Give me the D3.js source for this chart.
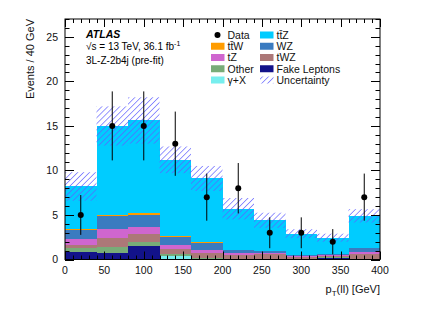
<!DOCTYPE html>
<html><head><meta charset="utf-8">
<script src="https://cdn.jsdelivr.net/npm/d3@7"></script>
<style>body{margin:0;background:#fff}svg{display:block;font-family:"Liberation Sans",Arial,Helvetica,sans-serif}</style>
</head><body><svg id="c" width="432" height="310"></svg>
<script>
const binEdges = [0,40,80,120,160,200,240,280,320,360,400];
const fake   = [0.86,0.75,1.54,0,0,0,0,0,0.22,0];
const gammaX = [0,0,0,0.4,0.08,0,0,0,0,0];
const other  = [0.45,0.64,0.37,0.19,0.1,0.05,0.03,0.02,0.03,0.04];
const tWZ    = [0.37,1.05,0.94,0.64,0.55,0.45,0.57,0.28,0.12,0.63];
const tZ     = [0.6,0.94,0.75,0.45,0.3,0.19,0.11,0.1,0.1,0.15];
const WZ     = [1.0,1.5,1.42,0.86,0.85,0.34,0.26,0.07,0.1,0.45];
const ttW    = [0.19,0.11,0.19,0.05,0.05,0.03,0.03,0.02,0.02,0.03];
const ttZ    = [4.73,10.0,10.4,8.6,7.17,4.64,3.4,2.41,1.86,3.6];
const unc    = [1.6,2.2,2.6,1.5,1.4,1.2,0.85,0.5,0.45,0.75];
const dataVals = [5,15,15,13,7,8,3,3,2,7];
const xTicks = [0,50,100,150,200,250,300,350,400];
const yTicks = [0,5,10,15,20,25];

const seriesKeys = ["fake","gammaX","other","tWZ","tZ","WZ","ttW","ttZ"];
const seriesArr = {fake,gammaX,other,tWZ,tZ,WZ,ttW,ttZ};
const colors = {fake:"#12128a",gammaX:"#77eeee",other:"#78ac78",tWZ:"#ac7878",tZ:"#cf66cf",WZ:"#3a7bc0",ttW:"#ff9c00",ttZ:"#00ccff"};

const svg = d3.select("#c");
const L=65,R=380,T=19,B=259.5;
const x = d3.scaleLinear().domain([0,400]).range([L,R]);
const y = d3.scaleLinear().domain([0,27]).range([B,T]);

const defs = svg.append("defs");
const pat = defs.append("pattern").attr("id","hatch").attr("patternUnits","userSpaceOnUse")
  .attr("width",4.2).attr("height",4.2).attr("patternTransform","rotate(45)");
pat.append("line").attr("x1",0).attr("y1",0).attr("x2",0).attr("y2",4.2)
  .attr("stroke","#6060ff").attr("stroke-width",1.3);
defs.append("clipPath").attr("id","clip").append("rect").attr("x",L).attr("y",T).attr("width",R-L).attr("height",B-T);

const rows = binEdges.slice(0,-1).map((e,i)=>{const o={i,lo:e,hi:binEdges[i+1]};seriesKeys.forEach(k=>o[k]=seriesArr[k][i]);return o;});
const stacked = d3.stack().keys(seriesKeys)(rows);
const g = svg.append("g").attr("clip-path","url(#clip)");
stacked.forEach(s=>{
  g.selectAll(null).data(s).enter().append("rect")
    .attr("x",d=>x(d.data.lo)).attr("width",d=>x(d.data.hi)-x(d.data.lo))
    .attr("y",d=>y(d[1])).attr("height",d=>Math.max(0,y(d[0])-y(d[1])))
    .attr("fill",colors[s.key]).attr("shape-rendering","crispEdges");
});
const totals = rows.map(r=>d3.sum(seriesKeys,k=>r[k]));
g.selectAll(null).data(rows).enter().append("rect")
  .attr("x",d=>x(d.lo)).attr("width",d=>x(d.hi)-x(d.lo))
  .attr("y",d=>y(totals[d.i]+unc[d.i])).attr("height",d=>y(totals[d.i]-unc[d.i])-y(totals[d.i]+unc[d.i]))
  .attr("fill","url(#hatch)");

const dg = svg.append("g");
rows.forEach(r=>{
  const cx=x((r.lo+r.hi)/2), v=dataVals[r.i], e=Math.sqrt(v);
  dg.append("line").attr("x1",cx).attr("x2",cx).attr("y1",y(Math.max(0,v-e))).attr("y2",y(v+e)).attr("stroke","#000").attr("stroke-width",1);
  dg.append("circle").attr("cx",cx).attr("cy",y(v)).attr("r",3).attr("fill","#000");
});

const ax = svg.append("g").attr("stroke","#000").attr("stroke-width",1);
ax.append("rect").attr("x",L).attr("y",T).attr("width",R-L).attr("height",B-T).attr("fill","none");
d3.range(0,401,10).forEach(v=>{
  const len = v%50===0?8:4; const px=Math.round(x(v))+0.5;
  ax.append("line").attr("x1",px).attr("x2",px).attr("y1",B).attr("y2",B-len);
  ax.append("line").attr("x1",px).attr("x2",px).attr("y1",T).attr("y2",T+len);
});
d3.range(0,28,1).forEach(v=>{
  const len = v%5===0?9:4.5; const py=Math.round(y(v))+0.5;
  ax.append("line").attr("x1",L).attr("x2",L+len).attr("y1",py).attr("y2",py);
  ax.append("line").attr("x1",R).attr("x2",R-len).attr("y1",py).attr("y2",py);
});
const txt = svg.append("g").attr("fill","#111").attr("font-size",10.5);
xTicks.forEach(v=>txt.append("text").attr("x",x(v)).attr("y",274).attr("text-anchor","middle").text(v));
yTicks.forEach(v=>txt.append("text").attr("x",58).attr("y",y(v)+3.8).attr("text-anchor","end").text(v));
svg.append("text").attr("transform","translate(34,19) rotate(-90)").attr("text-anchor","end").attr("font-size",11).attr("fill","#111").text("Events / 40 GeV");
const xt = svg.append("text").attr("x",380).attr("y",293).attr("text-anchor","end").attr("font-size",11).attr("fill","#111");
xt.append("tspan").text("p");
xt.append("tspan").attr("dy",3).attr("font-size",8).text("T");
xt.append("tspan").attr("dy",-3).text("(ll) [GeV]");

svg.append("text").attr("x",86).attr("y",37.5).attr("font-size",10.5).attr("font-weight","bold").attr("font-style","italic").text("ATLAS");
const s2 = svg.append("text").attr("x",86).attr("y",50).attr("font-size",10);
s2.append("tspan").text("√s = 13 TeV, 36.1 fb");
s2.append("tspan").attr("dy",-4).attr("font-size",7).text("-1");
svg.append("text").attr("x",86).attr("y",63.5).attr("font-size",10).text("3L-Z-2b4j (pre-fit)");

const legCol1 = [["data","Data"],["ttW","tt\u0304W"],["tZ","tZ"],["other","Other"],["gammaX","γ+X"]];
const legCol2 = [["ttZ","tt\u0304Z"],["WZ","WZ"],["tWZ","tWZ"],["fake","Fake Leptons"],["unc","Uncertainty"]];
const rowY = i=>35+i*11.25;
function legend(items,bx){
  items.forEach(([k,label],i)=>{
    const cy=rowY(i);
    if(k==="data") svg.append("circle").attr("cx",bx+6.5).attr("cy",cy).attr("r",3).attr("fill","#000");
    else svg.append("rect").attr("x",bx).attr("y",cy-3.5).attr("width",13.5).attr("height",7)
      .attr("fill",k==="unc"?"url(#hatch)":colors[k]);
    svg.append("text").attr("x",bx+16.5).attr("y",cy+3.8).attr("font-size",10.5).attr("fill","#111").text(label);
  });
}
legend(legCol1,211);
legend(legCol2,260);
</script></body></html>
